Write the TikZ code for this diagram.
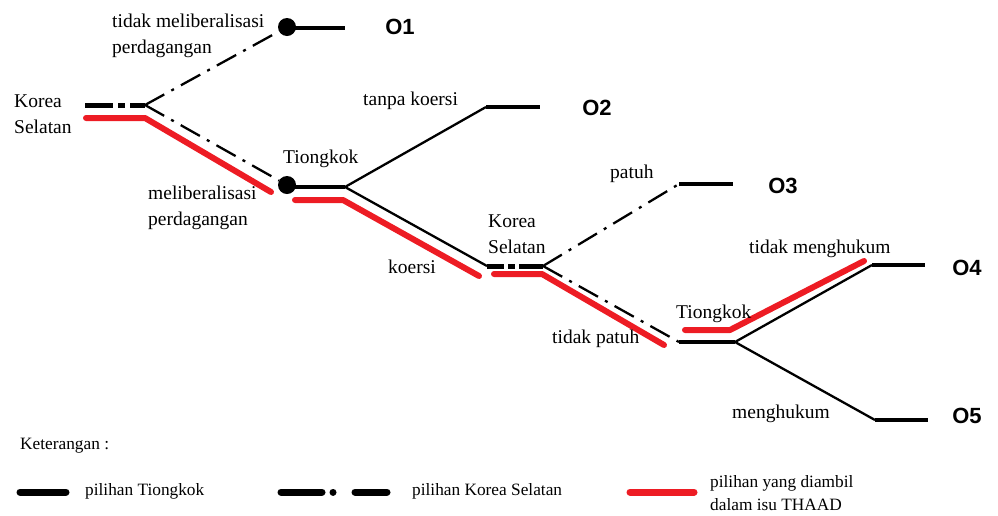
\documentclass[tikz,border=0pt]{standalone}
\usepackage{fontspec}
\setmainfont{Liberation Serif}
\newfontfamily\outfont{Liberation Sans}
\definecolor{thaadred}{RGB}{237,28,36}
\begin{document}
\begin{tikzpicture}[x=1pt,y=-1pt,
  lbl/.style={font=\fontsize{19.5}{26}\selectfont, inner sep=0pt, anchor=base west, align=left},
  leg/.style={font=\fontsize{17.3}{23}\selectfont, inner sep=0pt, anchor=base west, align=left},
  outc/.style={font=\outfont\bfseries\fontsize{22}{24}\selectfont, inner sep=0pt},
  tgthin/.style={line width=2.3pt},
  tgthick/.style={line width=4.5pt},
  ksthin/.style={line width=2.3pt, dash pattern=on 22pt off 8pt on 3pt off 8pt},
  ksthick/.style={line width=5pt},
  chosen/.style={line width=6pt, draw=thaadred, line cap=round, line join=round},
  dotnode/.style={circle, fill=black, minimum size=18pt, inner sep=0pt}
]
\useasboundingbox (0,0) rectangle (998,515);

% decision points and ends
\coordinate (k1s) at (85,105);
\coordinate (k1) at (145,105);
\node[dotnode] (d1) at (287,27) {};
\node[dotnode] (t1d) at (287,185) {};
\coordinate (t1s) at (287,187);
\coordinate (t1) at (345,187);
\coordinate (o1s) at (287,28);
\coordinate (o1e) at (345,28);
\coordinate (o2s) at (486,107);
\coordinate (o2e) at (540,107);
\coordinate (k2s) at (487,266);
\coordinate (k2) at (543,266);
\coordinate (o3s) at (679,184);
\coordinate (o3e) at (733,184);
\coordinate (t2s) at (679,342);
\coordinate (t2) at (735,342);
\coordinate (o4s) at (872,265);
\coordinate (o4e) at (925,265);
\coordinate (o5s) at (875,420);
\coordinate (o5e) at (928,420);

% South Korea, first move
\draw[ksthick, dash pattern=on 28pt off 5pt on 7pt off 5pt on 30pt off 0pt] (k1s) -- (k1);
\draw[ksthin] (k1) -- (d1);
\draw[ksthin] (k1) -- (t1d);
\draw[tgthick] (o1s) -- (o1e);

% China, first move
\draw[tgthick] (t1s) -- (t1);
\draw[tgthin] (t1) -- (o2s);
\draw[tgthick] (o2s) -- (o2e);
\draw[tgthin] (t1) -- (k2s);

% South Korea, second move
\draw[ksthick, dash pattern=on 17pt off 4pt on 7pt off 4pt on 30pt off 0pt] (k2s) -- (k2);
\draw[ksthin] (k2) -- (o3s);
\draw[tgthick] (o3s) -- (o3e);
\draw[ksthin] (k2) -- (t2s);

% China, second move
\draw[tgthick] (t2s) -- (t2);
\draw[tgthin] (t2) -- (o4s);
\draw[tgthick] (o4s) -- (o4e);
\draw[tgthin] (t2) -- (o5s);
\draw[tgthick] (o5s) -- (o5e);

% path taken in the THAAD issue
\coordinate (r1a) at (86,118);
\coordinate (r1b) at (145,118);
\coordinate (r1c) at (271,192);
\coordinate (r2a) at (295,200);
\coordinate (r2b) at (343,200);
\coordinate (r2c) at (479,276);
\coordinate (r3a) at (494,274);
\coordinate (r3b) at (542,274);
\coordinate (r3c) at (664,345);
\coordinate (r4a) at (685,330);
\coordinate (r4b) at (730,330);
\coordinate (r4c) at (864,261);
\draw[chosen] (r1a) -- (r1b) -- (r1c);
\draw[chosen] (r2a) -- (r2b) -- (r2c);
\draw[chosen] (r3a) -- (r3b) -- (r3c);
\draw[chosen] (r4a) -- (r4b) -- (r4c);

% outcomes
\node[outc] (O1) at (400,27) {O1};
\node[outc] (O2) at (597,108) {O2};
\node[outc] (O3) at (783,186) {O3};
\node[outc] (O4) at (967,268) {O4};
\node[outc] (O5) at (967,416) {O5};

% move labels (multi-line nodes are placed by their last baseline)
\node[lbl] (lk1) at (14,133) {Korea\\Selatan};
\node[lbl] (lnl) at (112,53) {tidak meliberalisasi\\perdagangan};
\node[lbl] (ll) at (148,225) {meliberalisasi\\perdagangan};
\node[lbl] (lt1) at (283,163) {Tiongkok};
\node[lbl] (ltk) at (363,105) {tanpa koersi};
\node[lbl] (lko) at (388,273) {koersi};
\node[lbl] (lk2) at (488,253) {Korea\\Selatan};
\node[lbl] (lpa) at (610,178) {patuh};
\node[lbl] (ltp) at (552,343) {tidak patuh};
\node[lbl] (lt2) at (676,318) {Tiongkok};
\node[lbl] (ltm) at (749,253) {tidak menghukum};
\node[lbl] (lme) at (732,418) {menghukum};

% legend
\node[leg] (ket) at (20,449) {Keterangan :};
\coordinate (lg1a) at (20,492);
\coordinate (lg1b) at (66,492);
\coordinate (lg2a) at (281,492);
\coordinate (lg2b) at (387,492);
\coordinate (lg3a) at (630,492);
\coordinate (lg3b) at (694,492);
\draw[line width=7pt, line cap=round] (lg1a) -- (lg1b);
\draw[line width=7pt, line cap=round, dash pattern=on 41pt off 11pt on 0.01pt off 22pt on 40pt] (lg2a) -- (lg2b);
\draw[line width=7pt, line cap=round, draw=thaadred] (lg3a) -- (lg3b);
\node[leg] (leg1) at (85,495) {pilihan Tiongkok};
\node[leg] (leg2) at (412,495) {pilihan Korea Selatan};
\node[leg] (leg3) at (710,510) {pilihan yang diambil\\dalam isu THAAD};
\end{tikzpicture}
\end{document}
